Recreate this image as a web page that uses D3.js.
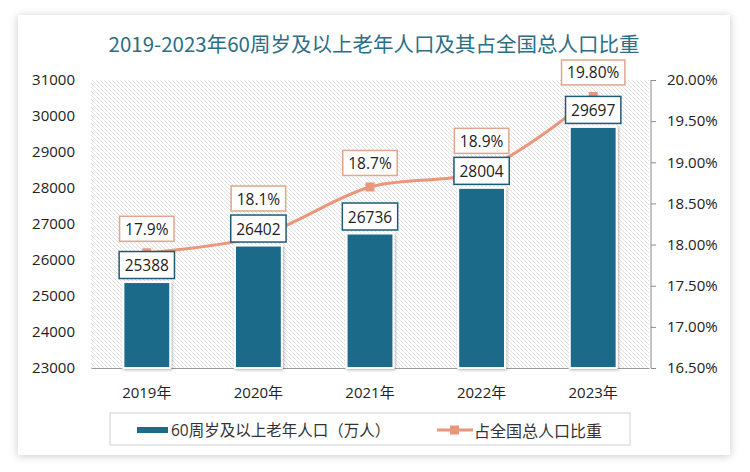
<!DOCTYPE html>
<html>
<head>
<meta charset="utf-8">
<script src="https://cdn.jsdelivr.net/npm/d3@7"></script>
<style>
body { margin: 0; background: #fff; }
svg { display: block; font-family: "Open Sans", "Noto Sans CJK SC", sans-serif; }
</style>
</head>
<body>
<script>
// ================================================================================================
// Data

var years = ['2019年', '2020年', '2021年', '2022年', '2023年'];
var elderly = [25388, 26402, 26736, 28004, 29697];       // 万人
var share = [17.9, 18.1, 18.7, 18.9, 19.8];              // %
var share_labels = ['17.9%', '18.1%', '18.7%', '18.9%', '19.80%'];
var left_ticks = [23000, 24000, 25000, 26000, 27000, 28000, 29000, 30000, 31000];
var right_ticks = [16.5, 17, 17.5, 18, 18.5, 19, 19.5, 20];

var title = '2019-2023年60周岁及以上老年人口及其占全国总人口比重';
var legend_names = ['60周岁及以上老年人口（万人）', '占全国总人口比重'];

// ================================================================================================
// Chart

var width = 750, height = 472;
var bar_color = '#1f6a8a';
var line_color = '#e9967a';

var svg = d3.select('body').append('svg')
    .attr('width', width)
    .attr('height', height);

var defs = svg.append('defs');

// card shadow
var shadow = defs.append('filter').attr('id', 'shadow')
    .attr('x', '-10%').attr('y', '-10%').attr('width', '120%').attr('height', '120%');
shadow.append('feDropShadow')
    .attr('dx', 0).attr('dy', 1)
    .attr('stdDeviation', 4)
    .attr('flood-color', '#000')
    .attr('flood-opacity', 0.22);

var bar_shadow = defs.append('filter').attr('id', 'bar_shadow')
    .attr('x', '-30%').attr('y', '-10%').attr('width', '160%').attr('height', '120%');
bar_shadow.append('feDropShadow')
    .attr('dx', 1).attr('dy', 1)
    .attr('stdDeviation', 1.5)
    .attr('flood-color', '#000')
    .attr('flood-opacity', 0.3);

// hatch of the plot area
var hatch = defs.append('pattern').attr('id', 'hatch')
    .attr('patternUnits', 'userSpaceOnUse')
    .attr('width', 4).attr('height', 4);
hatch.append('path')
    .attr('d', 'M-1,-1 L5,5 M-1,3 L1,5 M3,-1 L5,1')
    .attr('stroke', '#dddddd')
    .attr('stroke-width', 0.9);

svg.append('rect')
    .attr('x', 18).attr('y', 15)
    .attr('width', 712).attr('height', 440)
    .attr('fill', '#fff')
    .attr('filter', 'url(#shadow)');

// Title
svg.append('text')
    .attr('x', 374).attr('y', 52)
    .attr('text-anchor', 'middle')
    .style('font-family', '"Noto Sans CJK SC", sans-serif')
    .style('font-size', '20.5px')
    .attr('fill', '#2c6e85')
    .text(title);

// Scales
var plot = { left: 91, right: 649, top: 80, bottom: 368 };

var x = d3.scaleBand()
    .domain(years)
    .range([plot.left, plot.right])
    .paddingInner(0.58)
    .paddingOuter(0.29);

var y_left = d3.scaleLinear()
    .domain([23000, 31000])
    .range([plot.bottom, plot.top]);

var y_right = d3.scaleLinear()
    .domain([16.5, 20])
    .range([plot.bottom, plot.top]);

svg.append('rect')
    .attr('x', plot.left).attr('y', plot.top)
    .attr('width', plot.right - plot.left)
    .attr('height', plot.bottom - plot.top)
    .attr('fill', 'url(#hatch)');

// Left axis: labels only
var left_axis = svg.append('g')
    .attr('transform', 'translate(' + (plot.left - 8) + ',0)')
    .call(d3.axisLeft(y_left).tickValues(left_ticks).tickSize(0).tickPadding(8)
        .tickFormat(d3.format('d')));
left_axis.select('.domain').remove();
left_axis.selectAll('text')
    .style('font-family', '"Open Sans", sans-serif')
    .style('font-size', '15px')
    .attr('fill', '#222');

// Right axis
var right_axis = svg.append('g')
    .attr('transform', 'translate(651,0)')
    .call(d3.axisRight(y_right).tickValues(right_ticks).tickSize(5).tickPadding(11)
        .tickFormat(function (d) { return d.toFixed(2) + '%'; }));
right_axis.select('.domain').attr('stroke', '#8a8a8a').attr('d', 'M0,' + plot.top + 'V' + plot.bottom);
right_axis.selectAll('line').attr('stroke', '#8a8a8a');
right_axis.selectAll('text')
    .style('font-family', '"Open Sans", sans-serif')
    .style('font-size', '15px')
    .attr('fill', '#222');

// Bottom axis
var bottom_axis = svg.append('g')
    .attr('transform', 'translate(0,' + plot.bottom + ')')
    .call(d3.axisBottom(x).tickSize(0).tickPadding(19));
bottom_axis.select('.domain').attr('stroke', '#9a9a9a').attr('stroke-width', 1.2);
bottom_axis.selectAll('text')
    .style('font-family', '"Open Sans", "Noto Sans CJK SC", sans-serif')
    .style('font-size', '15px')
    .attr('fill', '#222');

// Bars
var bar_data = years.map(function (d, i) {
    return { year: d, value: elderly[i], share: share[i], share_label: share_labels[i] };
});

svg.append('g').selectAll('rect')
    .data(bar_data)
    .enter()
    .append('rect')
    .attr('x', function (d) { return x(d.year); })
    .attr('y', function (d) { return y_left(d.value); })
    .attr('width', x.bandwidth())
    .attr('height', function (d) { return plot.bottom - y_left(d.value); })
    .attr('fill', bar_color)
    .attr('stroke', '#fff')
    .attr('stroke-width', 2)
    .attr('filter', 'url(#bar_shadow)');

// Line
var cx = function (d) { return x(d.year) + x.bandwidth() / 2; };

var line = d3.line()
    .x(cx)
    .y(function (d) { return y_right(d.share); })
    .curve(d3.curveCatmullRom.alpha(0.5));

svg.append('path')
    .datum(bar_data)
    .attr('d', line)
    .attr('fill', 'none')
    .attr('stroke', line_color)
    .attr('stroke-width', 3);

svg.append('g').selectAll('rect')
    .data(bar_data)
    .enter()
    .append('rect')
    .attr('x', function (d) { return cx(d) - 4.5; })
    .attr('y', function (d) { return y_right(d.share) - 4.5; })
    .attr('width', 9)
    .attr('height', 9)
    .attr('fill', line_color);

// Data labels in boxes
function label_box(g, text, cx, cy, border, h) {
    var t = g.append('text')
        .attr('x', cx).attr('y', cy)
        .attr('text-anchor', 'middle')
        .attr('dominant-baseline', 'central')
        .style('font-family', '"Open Sans", sans-serif')
        .style('font-size', '15.5px')
        .attr('fill', '#222')
        .text(text);
    var w = t.node().getComputedTextLength() + 11;
    g.insert('rect', 'text')
        .attr('x', cx - w / 2).attr('y', cy - h / 2)
        .attr('width', w).attr('height', h)
        .attr('fill', '#fff')
        .attr('stroke', border)
        .attr('stroke-width', 1.5);
}

var labels = svg.append('g');
bar_data.forEach(function (d) {
    var bar_cy = y_left(d.value) - 17;
    var line_cy = y_right(d.share) - 24;
    // keep the share label clear of the value label
    if (line_cy + 12.5 > bar_cy - 13.5 - 2) {
        line_cy = bar_cy - 13.5 - 4 - 12.5;
    }
    label_box(labels.append('g'), d.value, cx(d), bar_cy, '#1d5b74', 27);
    label_box(labels.append('g'), d.share_label, cx(d), line_cy, '#e2a58e', 25);
});

// Legend
var legend = svg.append('g');
legend.append('rect')
    .attr('x', 110).attr('y', 413)
    .attr('width', 520).attr('height', 32)
    .attr('fill', '#fff')
    .attr('stroke', '#d0d0d0')
    .attr('stroke-width', 1);

legend.append('rect')
    .attr('x', 137).attr('y', 427)
    .attr('width', 31).attr('height', 6)
    .attr('fill', bar_color);
legend.append('text')
    .attr('x', 171).attr('y', 430)
    .attr('dominant-baseline', 'central')
    .style('font-family', '"Open Sans", "Noto Sans CJK SC", sans-serif')
    .style('font-size', '15.5px')
    .attr('fill', '#333')
    .text(legend_names[0]);

legend.append('line')
    .attr('x1', 437).attr('x2', 473)
    .attr('y1', 430).attr('y2', 430)
    .attr('stroke', line_color)
    .attr('stroke-width', 3);
legend.append('rect')
    .attr('x', 450).attr('y', 425.5)
    .attr('width', 9).attr('height', 9)
    .attr('fill', line_color);
legend.append('text')
    .attr('x', 474).attr('y', 430)
    .attr('dominant-baseline', 'central')
    .style('font-family', '"Noto Sans CJK SC", sans-serif')
    .style('font-size', '16px')
    .attr('fill', '#333')
    .text(legend_names[1]);
</script>
</body>
</html>
